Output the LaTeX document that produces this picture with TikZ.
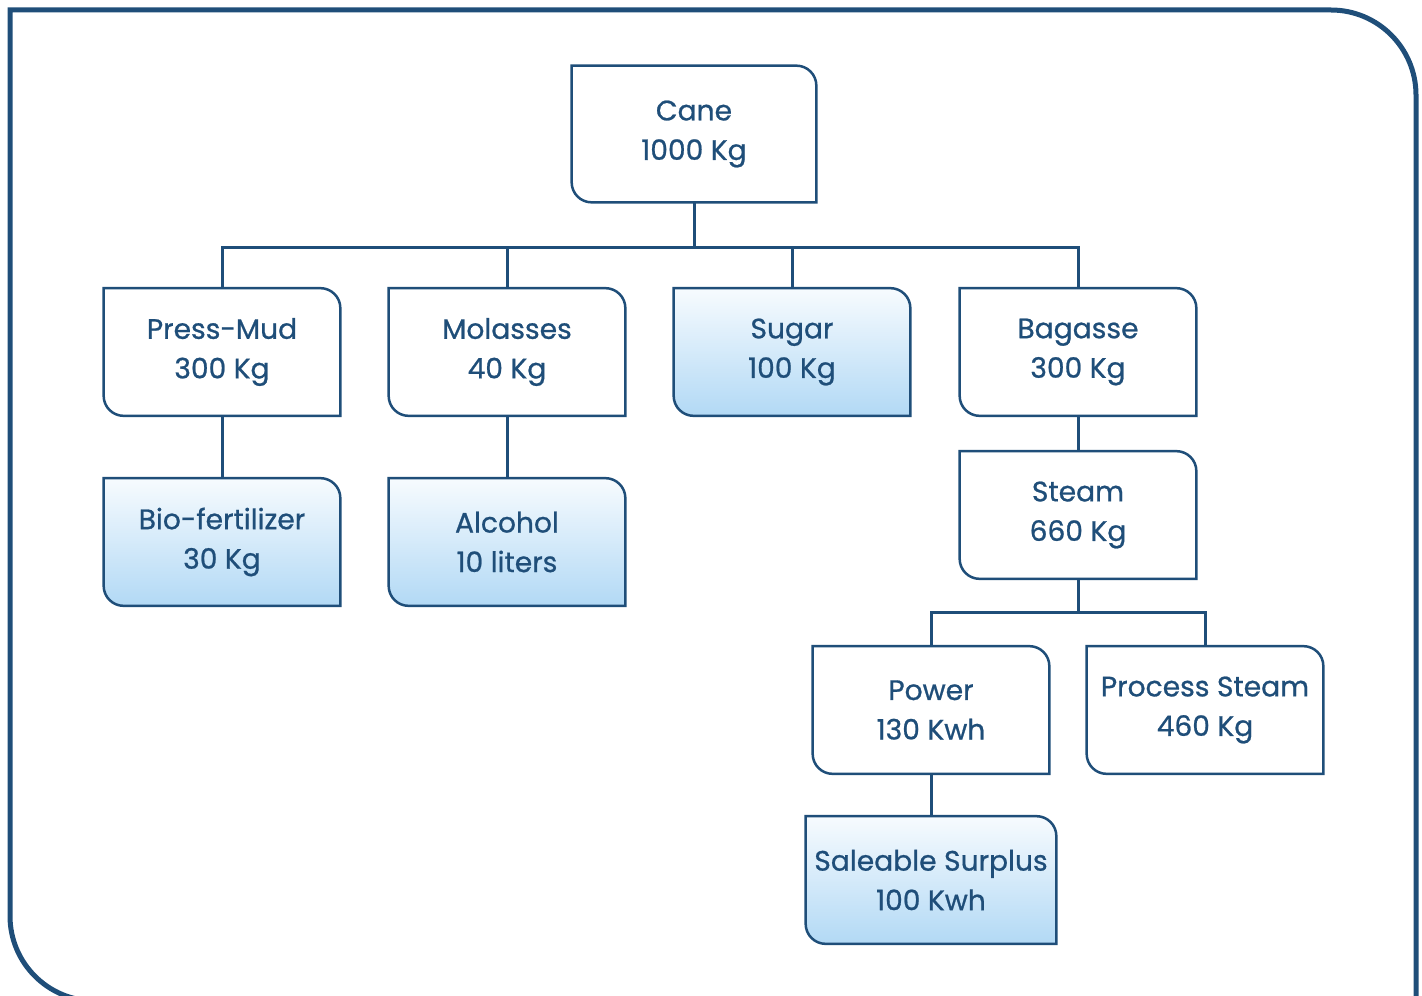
\documentclass[tikz,border=0pt]{standalone}
\usepackage{fontspec}
\newfontfamily\boxfont{Poppins}[UprightFeatures={FakeBold=0.8}]
\usetikzlibrary{backgrounds}

\definecolor{chartblue}{RGB}{31,78,121}
\definecolor{shadetop}{RGB}{247,251,254}
\definecolor{shadebot}{RGB}{178,217,245}

% box with rounded top-right and bottom-left corners
\newcommand{\unitbox}[5][]{%
  \node[boxtext,#1] (#2) at (#3) {#5};
  \begin{pgfonlayer}{background}
    \path[boxline,#4] (#2.north west) -- ([xshift=-4mm]#2.north east)
      arc[start angle=90,end angle=0,radius=4mm] -- (#2.south east)
      -- ([xshift=4mm]#2.south west)
      arc[start angle=270,end angle=180,radius=4mm] -- cycle;
  \end{pgfonlayer}}

\begin{document}
\begin{tikzpicture}[x=0.2mm,y=-0.2mm,
    boxtext/.style={inner sep=0pt,minimum width=47.2mm,minimum height=25.4mm,
      align=center,text=chartblue,font=\boxfont\fontsize{16}{22.5}\selectfont},
    boxline/.style={draw=chartblue,line width=0.5mm},
    plain/.style={fill=white},
    product/.style={top color=shadetop,bottom color=shadebot},
    link/.style={draw=chartblue,line width=0.6mm},
    frame/.style={draw=chartblue,line width=1mm}]
    \useasboundingbox (0,0) rectangle (1422,996);

    % --- outer frame ---
    \draw[frame] (1416,1100) -- (1416,95) arc[start angle=0,end angle=90,radius=17mm]
      -- (10,10) -- (10,916) arc[start angle=180,end angle=270,radius=17mm] -- (1300,1001);

    % --- boxes ---
    \unitbox[minimum width=48.8mm,minimum height=27.2mm]{cane}{694,134}{plain}{Cane\\1000 Kg}
    \unitbox{pressmud}{222,352}{plain}{Press-Mud\\300 Kg}
    \unitbox{molasses}{507,352}{plain}{Molasses\\40 Kg}
    \unitbox{sugar}{792,352}{product}{Sugar\\100 Kg}
    \unitbox{bagasse}{1078,352}{plain}{Bagasse\\300 Kg}
    \unitbox{biofert}{222,542}{product}{Bio-fertilizer\\30 Kg}
    \unitbox{alcohol}{507,542}{product}{Alcohol\\10 liters}
    \unitbox{steam}{1078,515}{plain}{Steam\\660 Kg}
    \unitbox{power}{931,710}{plain}{Power\\130 Kwh}
    \unitbox{process}{1205,710}{plain}{Process Steam\\460 Kg}
    \unitbox[minimum width=50mm]{surplus}{931,880}{product}{Saleable Surplus\\100 Kwh}

    % --- connectors ---
    \draw[link] (cane.south) -- ++(0,45) -| (pressmud.north);
    \draw[link] (cane.south) -- ++(0,45) -| (molasses.north);
    \draw[link] (cane.south) -- ++(0,45) -| (sugar.north);
    \draw[link] (cane.south) -- ++(0,45) -| (bagasse.north);
    \draw[link] (pressmud.south) -- (biofert.north);
    \draw[link] (molasses.south) -- (alcohol.north);
    \draw[link] (bagasse.south) -- (steam.north);
    \draw[link] (steam.south) -- ++(0,34) -| (power.north);
    \draw[link] (steam.south) -- ++(0,34) -| (process.north);
    \draw[link] (power.south) -- (surplus.north);
\end{tikzpicture}
\end{document}
